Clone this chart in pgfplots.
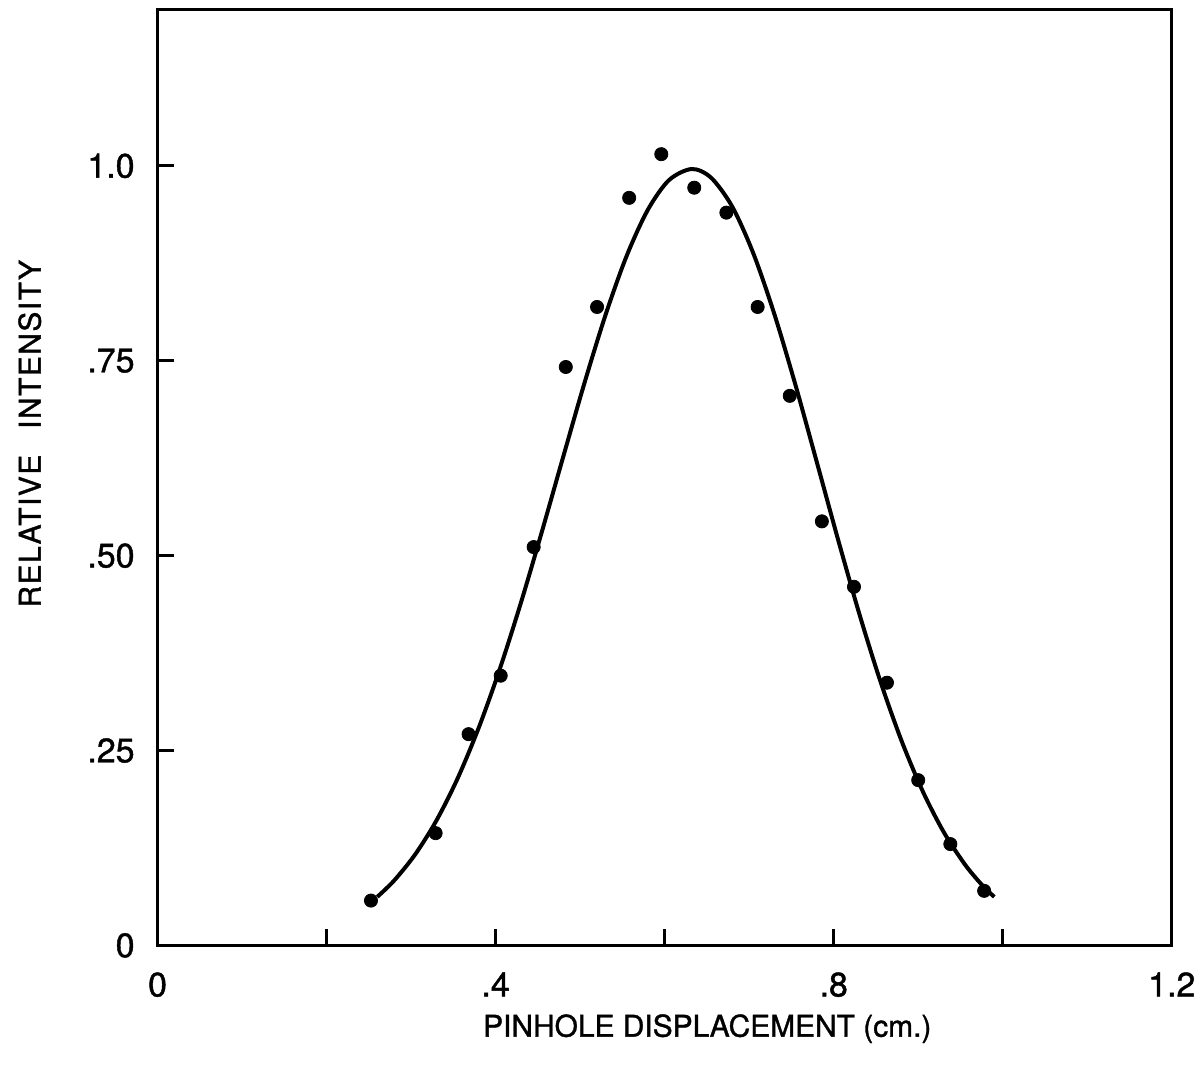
\documentclass[border=0pt]{standalone}
\usepackage{fontspec}
\setmainfont{TeX Gyre Heros}[FakeBold=1.2]
\newfontfamily\ylabfont{TeX Gyre Heros}[FakeBold=1.2, LetterSpace=5]
\usepackage{pgfplots}
\pgfplotsset{compat=1.18}
\begin{document}
\begin{tikzpicture}
\begin{axis}[
  scale only axis,
  width=508.5pt, height=469pt,
  xmin=0, xmax=1.2, ymin=0, ymax=1.2,
  axis line style={line width=1.5pt},
  tick style={line width=1.5pt, black},
  major tick length=8pt,
  tick align=inside,
  xtick={0,0.2,0.4,0.6,0.8,1.0,1.2},
  xticklabels={0,,.4,,.8,,1.2},
  ytick={0,0.25,0.5,0.75,1.0},
  yticklabels={0,.25,.50,.75,1.0},
  xtick pos=bottom, ytick pos=left,
  /pgf/number format/assume math mode=true,
  ticklabel style={font=\fontsize{17}{20}\selectfont},
  xticklabel style={yshift=-10pt},
  yticklabel style={xshift=-8pt},
  xlabel={PINHOLE DISPLACEMENT (cm.)},
  ylabel={RELATIVE\hspace{13pt}INTENSITY},
  label style={font=\fontsize{15}{18}\selectfont},
  ylabel style={font=\fontsize{15}{18}\ylabfont},
  xlabel style={at={(axis description cs:0.542,-0.089)}, anchor=center},
  ylabel style={at={(axis description cs:-0.126,0.547)}, anchor=center},
  clip=false,
]
\addplot[line width=2pt, smooth, tension=0.5] coordinates {
(0.26,0.0623) (0.28,0.0833) (0.305,0.1170) (0.33,0.1603) (0.355,0.2142)
(0.38,0.2792) (0.405,0.3548) (0.43,0.4399) (0.455,0.5318) (0.48,0.6270)
(0.505,0.7211) (0.53,0.8087) (0.555,0.8845) (0.58,0.9435) (0.605,0.9816)
(0.632,0.9960) (0.655,0.9847) (0.68,0.9476) (0.705,0.8875) (0.73,0.8091)
(0.755,0.7180) (0.78,0.6200) (0.805,0.5212) (0.83,0.4264) (0.855,0.3395)
(0.88,0.2632) (0.905,0.1985) (0.93,0.1457) (0.955,0.1042) (0.975,0.0781)
(0.99,0.0622)
};
\addplot[only marks, mark=*, mark size=3.3pt, black] coordinates {
(0.2525,0.0575) (0.329,0.144) (0.368,0.271) (0.406,0.346) (0.445,0.511)
(0.483,0.742) (0.520,0.819) (0.558,0.959) (0.596,1.015) (0.635,0.972)
(0.673,0.940) (0.710,0.819) (0.748,0.705) (0.786,0.544) (0.824,0.460)
(0.863,0.337) (0.900,0.212) (0.938,0.130) (0.978,0.070)
};
\end{axis}
\path (current axis.south west) ++(-79pt,-64.5pt) rectangle ++(601pt,538.5pt);
\end{tikzpicture}
\end{document}
